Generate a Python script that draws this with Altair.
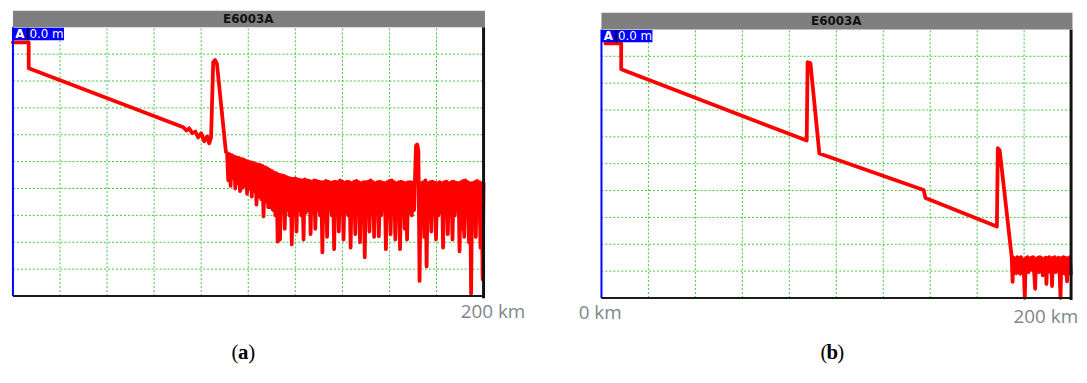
import altair as alt
import pandas as pd

# ---------------- data (distance in km, level in dB, 5 dB per division) ----------------
A_KM = [0, 6.7, 6.7, 72.4, 73.7, 74.9, 76.2, 77.5, 78.7, 80.0, 81.3, 82.5, 83.4, 84.2,
        85.1, 85.9, 86.7, 90.5,
        91.0, 91.5, 92.0, 92.5, 93.0, 93.5, 94.0, 94.5, 95.0, 95.5, 96.0, 96.5, 97.0, 97.5,
        98.0, 98.5, 99.0, 99.5, 100.0, 100.5, 101.0, 101.5, 102.0, 102.5, 103.0, 103.5,
        104.0, 104.5, 105.0, 105.5, 106.0, 106.5, 107.0, 107.5, 108.0, 108.5, 109.0, 109.5,
        110.0, 110.5, 111.0, 111.5, 112.0, 112.5, 113.0, 113.5, 114.0, 114.5, 115.0, 115.5,
        116.0, 116.5, 117.0, 117.5, 118.0, 118.5, 119.0, 119.5, 120.0, 120.5, 121.0, 121.5,
        122.0, 122.5, 123.0, 123.5, 124.0, 124.5, 125.0, 125.5, 126.0, 126.5, 127.0, 127.5,
        128.0, 128.5, 129.0, 129.5, 130.0, 130.5, 131.0, 131.5, 132.0, 132.5, 133.0, 133.5,
        134.0, 134.5, 135.0, 135.5, 136.0, 136.5, 137.0, 137.5, 138.0, 138.5, 139.0, 139.5,
        140.0, 140.5, 141.0, 141.5, 142.0, 142.5, 143.0, 143.5, 144.0, 144.5, 145.0, 145.5,
        146.0, 146.5, 147.0, 147.5, 148.0, 148.5, 149.0, 149.5, 150.0, 150.5, 151.0, 151.5,
        152.0, 152.5, 153.0, 153.5, 154.0, 154.5, 155.0, 155.5, 156.0, 156.5, 157.0, 157.5,
        158.0, 158.5, 159.0, 159.5, 160.0, 160.5, 161.0, 161.5, 162.0, 162.5, 163.0, 163.5,
        164.0, 164.5, 165.0, 165.5, 166.0, 166.5, 167.0, 167.5, 168.0, 168.5, 169.0, 169.5,
        170.0, 170.5, 171.0, 171.3, 171.8, 172.3, 172.8, 173.3, 173.8, 174.3, 174.8, 175.3,
        175.8, 176.3, 176.8, 177.3, 177.8, 178.3, 178.8, 179.3, 179.8, 180.3, 180.8, 181.3,
        181.8, 182.3, 182.8, 183.3, 183.8, 184.3, 184.8, 185.3, 185.8, 186.3, 186.8, 187.3,
        187.8, 188.3, 188.8, 189.3, 189.8, 190.3, 190.8, 191.3, 191.8, 192.3, 192.8, 193.3,
        193.8, 194.3, 194.7, 195.2, 195.7, 196.2, 196.7, 197.2, 197.7, 198.2, 198.7, 199.2,
        199.6, 200.0]
A_DB = [47.2, 47.2, 42.4, 31.4, 30.8, 31.2, 30.3, 30.6, 29.5, 30.3, 28.8, 29.7, 28.4, 29.5,
        43.5, 43.9, 43.2, 26.8,
        26.6, 21.5, 26.4, 20.5, 26.2, 22.0, 26.0, 20.0, 25.8, 21.0, 25.7, 19.5, 25.5, 20.1,
        25.4, 20.5, 25.2, 19.0, 25.0, 20.0, 24.9, 18.5, 24.8, 19.5, 24.6, 17.0,
        24.5, 18.5, 24.4, 18.0, 24.2, 14.8, 24.0, 17.5, 23.8, 16.5, 23.5, 16.5,
        23.3, 16.0, 23.0, 15.0, 22.8, 10.1, 22.6, 10.5, 22.5, 15.5, 22.4, 12.5,
        22.2, 16.0, 22.0, 15.0, 21.9, 9.6, 21.8, 15.5, 21.9, 12.0, 21.7, 16.0,
        21.6, 15.0, 21.5, 10.5, 21.7, 15.5, 21.5, 16.0, 21.4, 11.5, 21.3, 15.5,
        21.5, 12.5, 21.4, 16.0, 21.3, 15.0, 21.2, 8.1, 21.2, 15.5, 21.4, 11.0,
        21.3, 16.0, 21.1, 15.0, 21.2, 8.7, 21.3, 15.5, 21.2, 12.0, 21.5, 16.0,
        21.3, 10.5, 21.1, 15.5, 21.3, 15.0, 21.2, 9.0, 21.0, 16.0, 21.3, 11.5,
        21.4, 15.5, 21.2, 10.0, 21.0, 15.0, 21.2, 7.2, 21.2, 15.5, 21.3, 12.0,
        21.5, 16.0, 21.2, 11.0, 21.0, 15.5, 21.2, 11.1, 21.3, 15.0, 21.1, 16.0,
        21.0, 8.7, 21.2, 15.0, 21.4, 11.5, 21.5, 15.5, 21.2, 10.5, 21.0, 15.0,
        21.2, 8.7, 21.3, 15.5, 21.1, 12.5, 21.0, 10.5, 21.2, 15.5, 21.2, 15.0,
        21.1, 16.0, 24.0, 28.0, 28.2, 27.0, 2.8, 21.0, 15.0, 21.2, 11.0, 21.5,
        5.5, 21.0, 15.5, 21.2, 12.0, 21.3, 16.0, 21.1, 10.5, 21.0, 15.0, 21.2,
        15.5, 21.0, 9.0, 21.2, 15.0, 21.3, 11.5, 21.0, 15.5, 21.2, 10.5, 21.3,
        15.0, 21.1, 16.0, 21.0, 8.3, 21.2, 12.5, 21.4, 11.0, 21.5, 15.5, 21.2,
        10.0, 21.0, 0.4, 21.0, 15.0, 21.2, 11.0, 21.4, 15.0, 21.2, 9.0, 21.0,
        3.1, 21.0]

B_KM = [1.7, 8.4, 8.4, 87.4, 87.8, 89.0, 92.8, 137.2, 138.0, 168.4, 168.8, 169.6, 174.7,
        175.1, 175.5, 175.9, 176.3, 176.7, 177.1, 177.5, 177.9, 178.3, 178.7, 179.1, 179.5,
        179.9, 180.3, 180.7, 181.1, 181.5, 181.9, 182.3, 182.7, 183.1, 183.5, 183.9, 184.3,
        184.7, 185.1, 185.5, 185.9, 186.3, 186.7, 187.1, 187.5, 187.9, 188.3, 188.7, 189.1,
        189.5, 189.9, 190.3, 190.7, 191.1, 191.5, 191.9, 192.3, 192.7, 193.1, 193.5, 193.9,
        194.3, 194.7, 195.1, 195.5, 195.9, 196.3, 196.7, 197.1, 197.5, 197.9, 198.3, 198.7,
        199.1, 199.5, 199.9]
B_DB = [47.4, 47.4, 42.6, 29.3, 43.9, 43.7, 26.9, 20.1, 18.6, 13.3, 27.9, 27.5, 7.7,
        3.0, 7.5, 5.0, 7.3, 4.6, 7.6, 5.2, 7.4, 4.5, 7.6, 5.5, 7.2,
        4.8, 0.0, 7.4, 5.0, 7.6, 4.8, 7.3, 5.5, 7.5, 5.2, 7.6, 4.5,
        1.7, 7.3, 5.0, 7.5, 4.8, 7.6, 5.2, 7.4, 4.2, 7.2, 5.0, 7.5,
        2.6, 7.4, 5.5, 7.6, 4.8, 7.2, 2.2, 7.5, 5.0, 7.6, 4.8, 7.3,
        5.5, 7.5, 5.0, 0.0, 7.4, 5.0, 7.6, 4.6, 7.5, 5.2, 3.1, 7.4,
        5.0, 7.6, 4.5]

GRID_KM = [20, 40, 60, 80, 100, 120, 140, 160, 180]
GRID_DB = [5, 10, 15, 20, 25, 30, 35, 40, 45]
HEADER_TEXT = "E6003A"
MARKER_LETTER = "A"
MARKER_TEXT = "0.0 m"
START_LABEL = "0 km"
END_LABEL = "200 km"
CAPTIONS = ["a", "b"]

GRID_COLOR = "#3fc43f"
TRACE_COLOR = "#ff0000"
LABEL_COLOR = "#80858b"


def panel(km, db, ytop, height, width, show_start, end_dx, end_dy, cap, cap_dx, cap_dy):
    xs = alt.Scale(domain=[0, 200], nice=False, zero=False)
    ys = alt.Scale(domain=[0, ytop], nice=False, zero=False)

    def X(f):
        return alt.X(f, type="quantitative", scale=xs, axis=None)

    def Y(f):
        return alt.Y(f, type="quantitative", scale=ys, axis=None)

    vgrid = alt.Chart(pd.DataFrame({"km": GRID_KM, "lo": [0] * 9, "hi": [50] * 9})).mark_rule(
        color=GRID_COLOR, strokeDash=[2, 2], strokeWidth=1
    ).encode(x=X("km"), y=Y("lo"), y2="hi")
    hgrid = alt.Chart(pd.DataFrame({"db": GRID_DB, "lo": [0] * 9, "hi": [200] * 9})).mark_rule(
        color=GRID_COLOR, strokeDash=[2, 2], strokeWidth=1
    ).encode(y=Y("db"), x=X("lo"), x2="hi")

    tr = pd.DataFrame({"km": km, "db": db, "i": list(range(len(km)))})
    trace = alt.Chart(tr).mark_line(
        color=TRACE_COLOR, strokeWidth=3.8, strokeJoin="round", strokeCap="round"
    ).encode(x=X("km"), y=Y("db"), order=alt.Order("i:Q"))

    left = alt.Chart(pd.DataFrame({"km": [0], "lo": [0], "hi": [50]})).mark_rule(
        color="#0000ff", strokeWidth=2
    ).encode(x=X("km"), y=Y("lo"), y2="hi")
    bottom = alt.Chart(pd.DataFrame({"db": [0], "lo": [0], "hi": [200]})).mark_rule(
        color="#1a1a1a", strokeWidth=2
    ).encode(y=Y("db"), x=X("lo"), x2="hi")
    right = alt.Chart(pd.DataFrame({"km": [200], "lo": [-0.4], "hi": [50]})).mark_rule(
        color="#111111", strokeWidth=3
    ).encode(x=X("km"), y=Y("lo"), y2="hi")

    header = alt.Chart(pd.DataFrame({"x0": [0], "x1": [200.6], "y0": [50], "y1": [53.1]})).mark_rect(
        color="#7f7f7f"
    ).encode(x=X("x0"), x2="x1", y=Y("y0"), y2="y1")
    header_txt = alt.Chart(pd.DataFrame({"km": [100], "db": [51.55], "t": [HEADER_TEXT]})).mark_text(
        font="DejaVu Sans", fontSize=12, fontWeight="bold", color="#111111", baseline="middle"
    ).encode(x=X("km"), y=Y("db"), text="t:N")

    box = alt.Chart(pd.DataFrame({"x0": [0], "x1": [21.7], "y0": [47.6], "y1": [49.9]})).mark_rect(
        color="#0000ff"
    ).encode(x=X("x0"), x2="x1", y=Y("y0"), y2="y1")
    bar = alt.Chart(pd.DataFrame({"km": [6.3], "lo": [47.6], "hi": [49.9]})).mark_rule(
        color="#000000", strokeWidth=1.5
    ).encode(x=X("km"), y=Y("lo"), y2="hi")
    letter = alt.Chart(pd.DataFrame({"km": [2.9], "db": [48.75], "t": [MARKER_LETTER]})).mark_text(
        font="DejaVu Sans", fontSize=12, fontWeight="bold", color="white", baseline="middle"
    ).encode(x=X("km"), y=Y("db"), text="t:N")
    marker = alt.Chart(pd.DataFrame({"km": [7.0], "db": [48.75], "t": [MARKER_TEXT]})).mark_text(
        font="DejaVu Sans", fontSize=12, color="white", baseline="middle", align="left"
    ).encode(x=X("km"), y=Y("db"), text="t:N")

    layers = [vgrid, hgrid, trace, left, bottom, right, header, header_txt, box, bar, letter, marker]

    endl = alt.Chart(pd.DataFrame({"km": [200], "db": [0], "t": [END_LABEL]})).mark_text(
        font="Open Sans", fontSize=19, color=LABEL_COLOR, align="left", baseline="middle",
        dx=end_dx, dy=end_dy
    ).encode(x=X("km"), y=Y("db"), text="t:N")
    layers.append(endl)
    if show_start:
        startl = alt.Chart(pd.DataFrame({"km": [0], "db": [0], "t": [START_LABEL]})).mark_text(
            font="Open Sans", fontSize=19, color=LABEL_COLOR, align="left", baseline="middle",
            dx=-23, dy=15
        ).encode(x=X("km"), y=Y("db"), text="t:N")
        layers.append(startl)

    for txt, al, off, wt in [("(", "right", -5, "normal"), (cap, "center", 0, "bold"),
                             (")", "left", 5, "normal")]:
        layers.append(
            alt.Chart(pd.DataFrame({"km": [100], "db": [0], "t": [txt]})).mark_text(
                font="Liberation Serif", fontSize=21, fontWeight=wt, color="#000000",
                align=al, baseline="middle", dx=cap_dx + off, dy=cap_dy
            ).encode(x=X("km"), y=Y("db"), text="t:N")
        )

    return alt.layer(*layers).properties(width=width, height=height)


pa = panel(A_KM, A_DB, 53.1, 288, 475, False, -23, 16.5, CAPTIONS[0], -5, 58)
pb = panel(B_KM, B_DB, 53.5, 290, 474, True, -58, 19.5, CAPTIONS[1], -4, 56)

chart = alt.hconcat(pa, pb, spacing=119, bounds="flush").configure_view(stroke=None).properties(
    padding={"left": 3, "top": 1, "right": 0, "bottom": 0}
)

chart.save("out.html", embed_options={"renderer": "svg", "actions": False})
